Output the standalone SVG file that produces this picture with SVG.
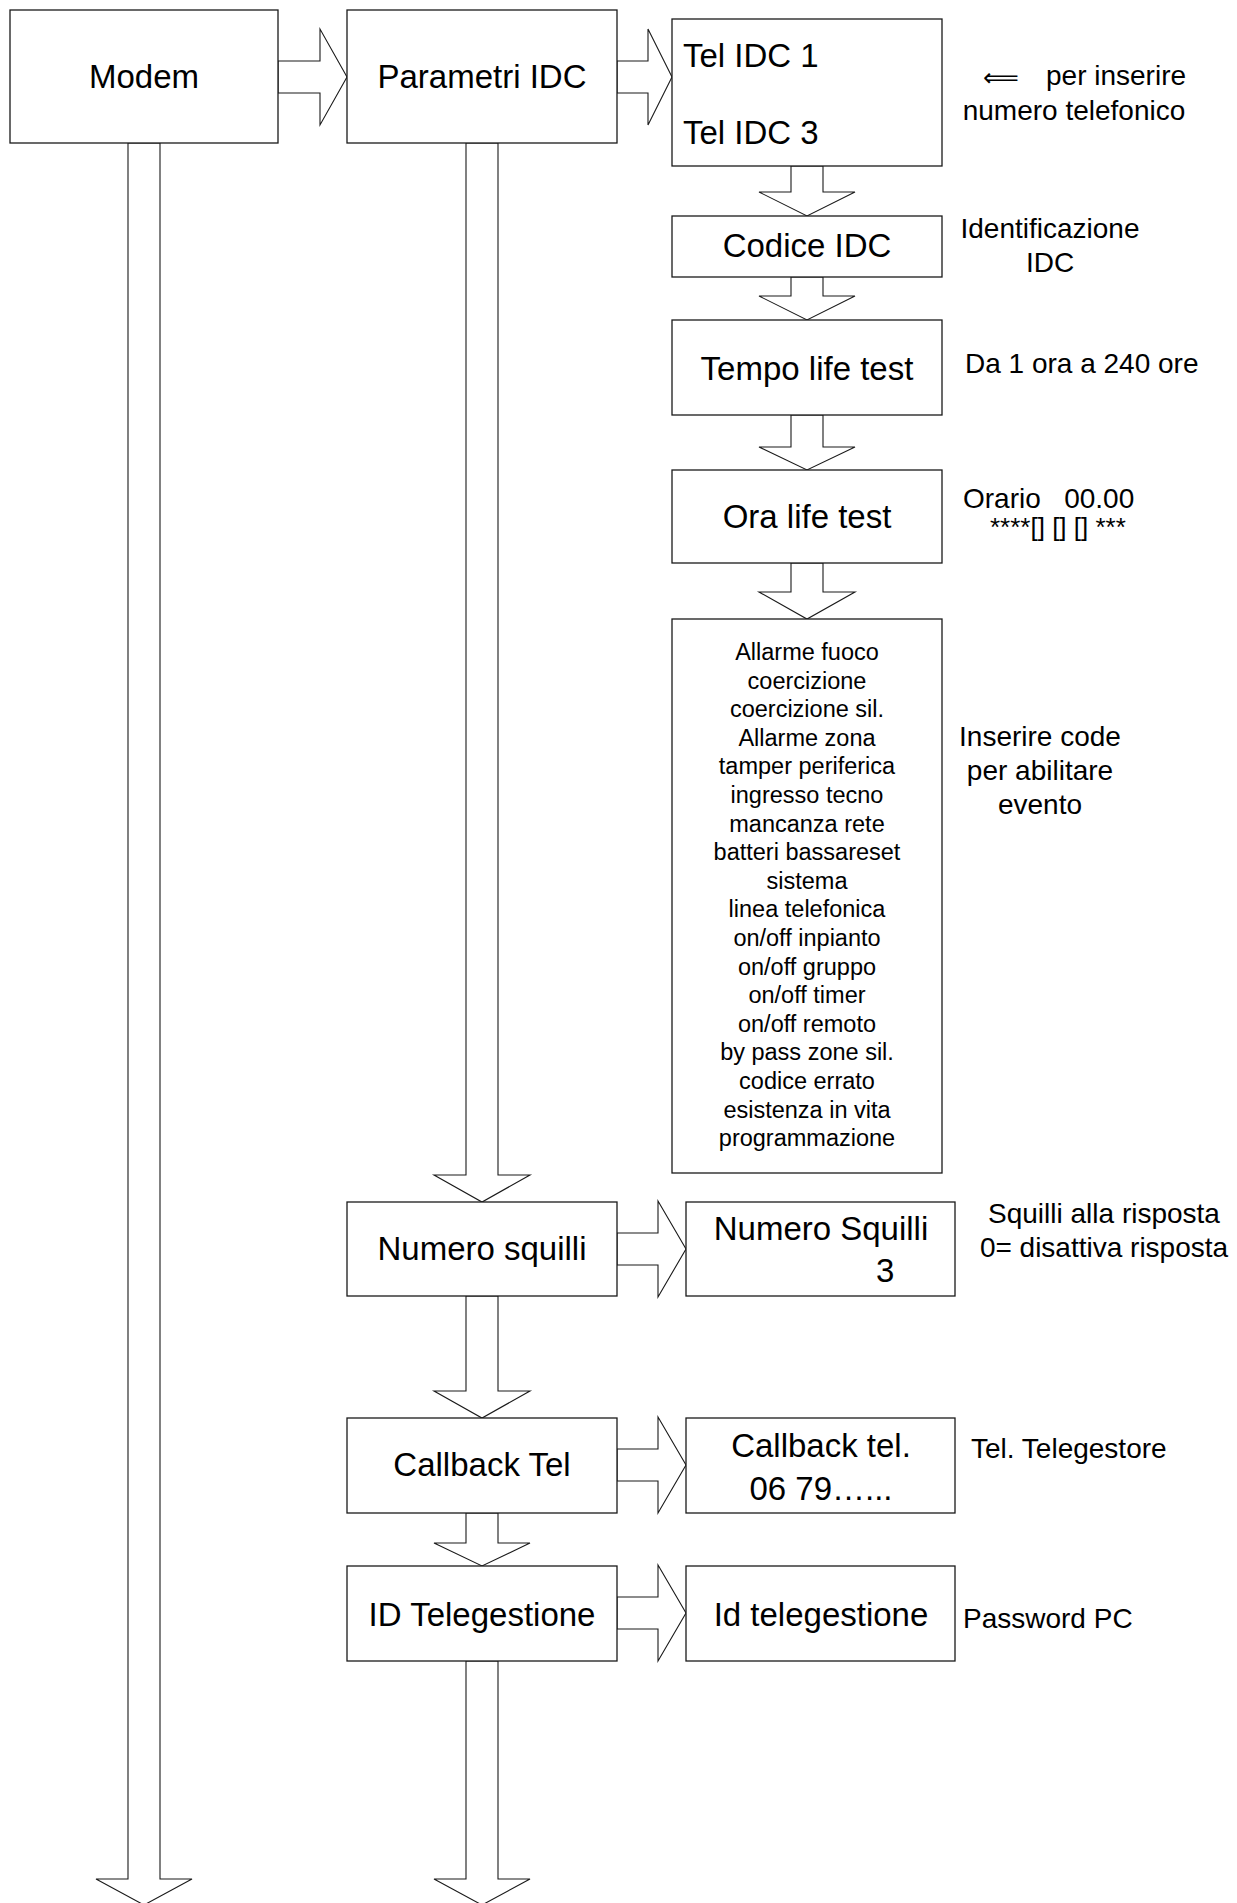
<svg xmlns="http://www.w3.org/2000/svg" width="1237" height="1903" viewBox="0 0 1237 1903">
<style>
.box{fill:#fff;stroke:#1a1a1a;stroke-width:1.3}
.arr{fill:#fff;stroke:#1a1a1a;stroke-width:1.1;stroke-linejoin:miter}
text{font-family:"Liberation Sans",Arial,sans-serif;fill:#000}
.lbl{font-size:33px}
.note{font-size:28px}
.lst{font-size:23.5px;text-anchor:middle}
.c{text-anchor:middle}
</style>
<rect width="1237" height="1903" fill="#fff"/>
<g id="connectors">
<polygon class="arr" points="278,61 320,61 320,29 347,77 320,125 320,93 278,93"/>
<polygon class="arr" points="617,61 648,61 648,29 672,77 648,125 648,93 617,93"/>
<polygon class="arr" points="617,1233 658,1233 658,1201 686,1249 658,1297 658,1265 617,1265"/>
<polygon class="arr" points="617,1449 658,1449 658,1417 686,1465 658,1513 658,1481 617,1481"/>
<polygon class="arr" points="617,1597 658,1597 658,1565 686,1613 658,1661 658,1629 617,1629"/>
<polygon class="arr" points="791,166 791,192 759,192 807,216 855,192 823,192 823,166"/>
<polygon class="arr" points="791,277 791,296 759,296 807,320 855,296 823,296 823,277"/>
<polygon class="arr" points="791,415 791,447 759,447 807,470 855,447 823,447 823,415"/>
<polygon class="arr" points="791,563 791,592 759,592 807,619 855,592 823,592 823,563"/>
<polygon class="arr" points="128,143 128,1879 96,1879 144,1905 192,1879 160,1879 160,143"/>
<polygon class="arr" points="466,143 466,1175 434,1175 482,1202 530,1175 498,1175 498,143"/>
<polygon class="arr" points="466,1296 466,1391 434,1391 482,1418 530,1391 498,1391 498,1296"/>
<polygon class="arr" points="466,1513 466,1543 434,1543 482,1566 530,1543 498,1543 498,1513"/>
<polygon class="arr" points="466,1661 466,1879 434,1879 482,1905 530,1879 498,1879 498,1661"/>
</g>
<g id="modem"><rect class="box" x="10" y="10" width="268" height="133"/><text class="lbl c" x="144" y="88">Modem</text></g>
<g id="parametri-idc"><rect class="box" x="347" y="10" width="270" height="133"/><text class="lbl c" x="482" y="88">Parametri IDC</text></g>
<g id="tel-idc"><rect class="box" x="672" y="19" width="270" height="147"/><text class="lbl" x="683" y="67">Tel IDC 1</text><text class="lbl" x="683" y="144">Tel IDC 3</text></g>
<g id="note-tel"><text x="983" y="86" style="font-family:'DejaVu Sans',sans-serif;font-size:25px">⟸</text><text class="note" x="1046" y="85">per inserire</text><text class="note c" x="1074" y="120">numero telefonico</text></g>
<g id="codice-idc"><rect class="box" x="672" y="216" width="270" height="61"/><text class="lbl c" x="807" y="257">Codice IDC</text></g>
<g id="note-codice"><text class="note c" x="1050" y="238">Identificazione</text><text class="note c" x="1050" y="272">IDC</text></g>
<g id="tempo-life-test"><rect class="box" x="672" y="320" width="270" height="95"/><text class="lbl c" x="807" y="380">Tempo life test</text></g>
<g id="note-tempo"><text class="note" x="965" y="373">Da 1 ora a 240 ore</text></g>
<g id="ora-life-test"><rect class="box" x="672" y="470" width="270" height="93"/><text class="lbl c" x="807" y="528">Ora life test</text></g>
<g id="note-ora"><text class="note" x="963" y="508" style="white-space:pre">Orario   00.00</text><text class="note" x="990" y="536" style="font-size:26px">****[] [] [] ***</text></g>
<g id="eventi"><rect class="box" x="672" y="619" width="270" height="554"/>
<text class="lst" x="807" y="660">Allarme fuoco</text>
<text class="lst" x="807" y="688.6">coercizione</text>
<text class="lst" x="807" y="717.2">coercizione sil.</text>
<text class="lst" x="807" y="745.8">Allarme zona</text>
<text class="lst" x="807" y="774.4">tamper periferica</text>
<text class="lst" x="807" y="803">ingresso tecno</text>
<text class="lst" x="807" y="831.6">mancanza rete</text>
<text class="lst" x="807" y="860.2">batteri bassareset</text>
<text class="lst" x="807" y="888.8">sistema</text>
<text class="lst" x="807" y="917.4">linea telefonica</text>
<text class="lst" x="807" y="946">on/off inpianto</text>
<text class="lst" x="807" y="974.6">on/off gruppo</text>
<text class="lst" x="807" y="1003.2">on/off timer</text>
<text class="lst" x="807" y="1031.8">on/off remoto</text>
<text class="lst" x="807" y="1060.4">by pass zone sil.</text>
<text class="lst" x="807" y="1089">codice errato</text>
<text class="lst" x="807" y="1117.6">esistenza in vita</text>
<text class="lst" x="807" y="1146.2">programmazione</text>
</g>
<g id="note-eventi"><text class="note c" x="1040" y="746">Inserire code</text><text class="note c" x="1040" y="780">per abilitare</text><text class="note c" x="1040" y="814">evento</text></g>
<g id="numero-squilli"><rect class="box" x="347" y="1202" width="270" height="94"/><text class="lbl c" x="482" y="1260">Numero squilli</text></g>
<g id="numero-squilli-3"><rect class="box" x="686" y="1202" width="269" height="94"/><text class="lbl c" x="821" y="1240">Numero Squilli</text><text class="lbl" x="876" y="1282">3</text></g>
<g id="note-squilli"><text class="note c" x="1104" y="1223">Squilli alla risposta</text><text class="note c" x="1104" y="1257">0= disattiva risposta</text></g>
<g id="callback-tel"><rect class="box" x="347" y="1418" width="270" height="95"/><text class="lbl c" x="482" y="1476">Callback Tel</text></g>
<g id="callback-tel-num"><rect class="box" x="686" y="1418" width="269" height="95"/><text class="lbl c" x="821" y="1457">Callback tel.</text><text class="lbl c" x="821" y="1500">06 79…...</text></g>
<g id="note-callback"><text class="note" x="971" y="1458">Tel. Telegestore</text></g>
<g id="id-telegestione"><rect class="box" x="347" y="1566" width="270" height="95"/><text class="lbl c" x="482" y="1626">ID Telegestione</text></g>
<g id="id-telegestione-val"><rect class="box" x="686" y="1566" width="269" height="95"/><text class="lbl c" x="821" y="1626">Id telegestione</text></g>
<g id="note-id"><text class="note" x="963" y="1628">Password PC</text></g>
</svg>
